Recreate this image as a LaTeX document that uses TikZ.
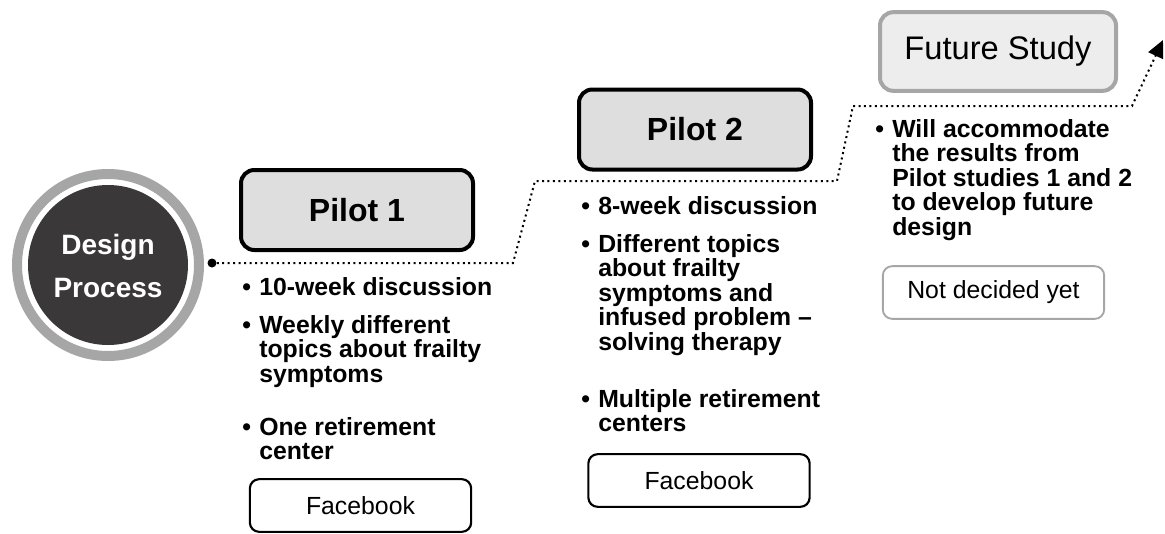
\documentclass[tikz,border=0pt]{standalone}
\usepackage{fontspec}
\setmainfont{Liberation Sans}
\usetikzlibrary{arrows.meta}

\definecolor{discgray}{HTML}{3A3838}
\definecolor{ringgray}{HTML}{A6A6A6}
\definecolor{pilotfill}{HTML}{DEDEDE}
\definecolor{futurefill}{HTML}{EDEDED}

\begin{document}
\begin{tikzpicture}[x=0.75pt,y=-0.75pt,
  disc/.style={circle,fill=discgray,minimum size=120pt,inner sep=0pt},
  ring/.style={draw=ringgray,line width=7.5pt},
  pilot/.style={rectangle,rounded corners=10pt,draw=black,line width=3pt,fill=pilotfill,
    minimum width=174pt,minimum height=60pt,font=\fontsize{24}{28}\selectfont\bfseries},
  future/.style={pilot,draw=ringgray,fill=futurefill,minimum width=177pt,minimum height=59pt,
    font=\fontsize{24.5}{28}\selectfont},
  medium/.style={rectangle,rounded corners=7pt,draw=black,line width=1.6pt,fill=white,
    minimum width=166pt,minimum height=39.5pt,font=\fontsize{18.6}{22}\selectfont},
  point/.style={anchor=base west,inner sep=0pt,font=\fontsize{18.6}{18.4}\selectfont\bfseries},
  trail/.style={line width=1.5pt,dash pattern=on 1.5pt off 2.6pt,-{Triangle[length=13pt,width=12pt]}},
  dot/.style={circle,fill=black,minimum size=6.75pt,inner sep=0pt}
]

\useasboundingbox (0,0) rectangle (1165,533);

\def\point#1(#2)#3;{
  \node[point] (#1) at (#2) {\makebox[12.75pt][l]{\textbullet}\parbox[t]{250pt}{#3}};
}

\node[disc] (design) at (108,265) {};
\draw[ring] (design.center) circle (68.25pt);
\node[text=white,align=center,font=\fontsize{21}{32}\selectfont\bfseries] (designtext) at (108,266) {Design\\Process};

\node[dot] (start) at (212,263) {};
\coordinate (c1) at (513,263);
\coordinate (c2) at (535,181);
\coordinate (c3) at (837,181);
\coordinate (c4) at (853,106);
\coordinate (c5) at (1132,106);
\coordinate (tip) at (1163,40);
\draw[trail] (start) -- (c1) -- (c2) -- (c3) -- (c4) -- (c5) -- (tip);

\node[pilot] (pilot1) at (357,210) {Pilot 1};
\node[pilot] (pilot2) at (695,129.5) {Pilot 2};
\node[future] (futurestudy) at (998,51.5) {Future Study};

\point p1a(242,295){10-week discussion};
\point p1b(242,333){Weekly different\\topics about frailty\\symptoms};
\point p1c(242,435){One retirement\\center};

\point p2a(581,214){8-week discussion};
\point p2b(581,252){Different topics\\about frailty\\symptoms and\\infused problem --\\solving therapy};
\point p2c(581,407){Multiple retirement\\centers};

\point fa(875,137){Will accommodate\\the results from\\Pilot studies 1 and 2\\to develop future\\design};

\node[medium] (fb1) at (360.5,505.5) {Facebook};
\node[medium] (fb2) at (699,480.5) {Facebook};
\node[medium,draw=ringgray,line width=1.4pt] (undecided) at (993.5,292.5) {Not decided yet};

\end{tikzpicture}
\end{document}
